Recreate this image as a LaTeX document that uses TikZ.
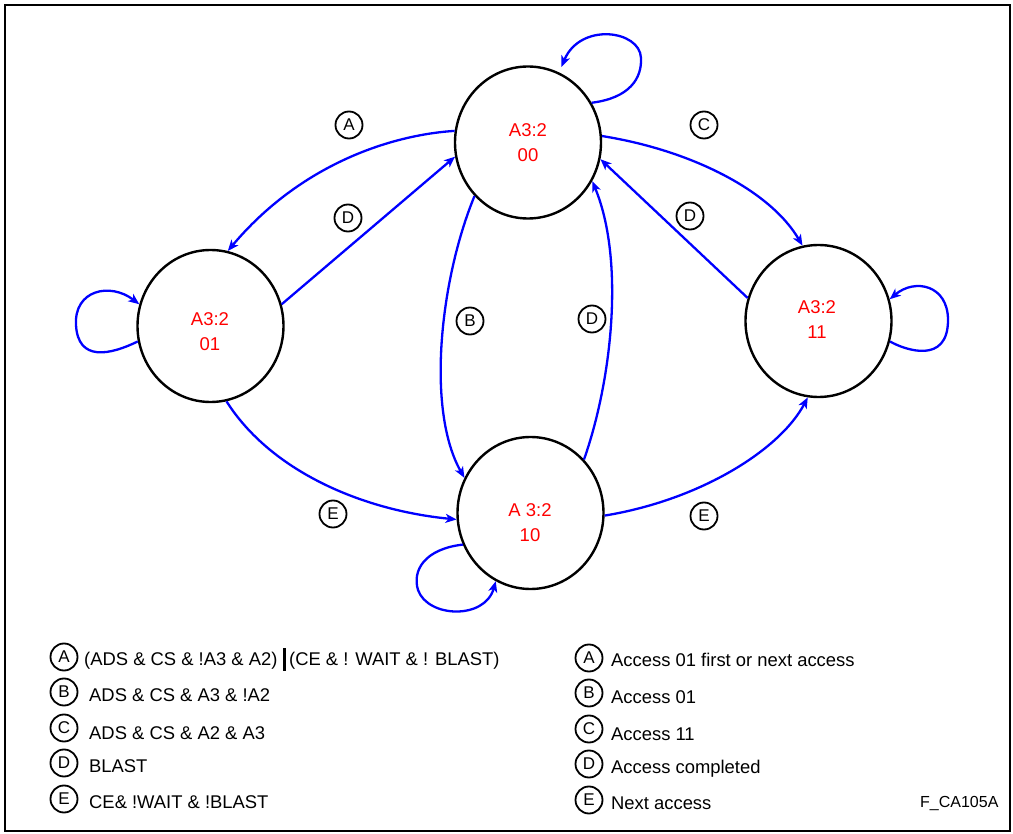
\documentclass[tikz,border=0pt]{standalone}
\usepackage{fontspec}
\setmainfont{Liberation Sans}
\usetikzlibrary{shapes.geometric,arrows.meta}
\begin{document}
\begin{tikzpicture}[x=1pt,y=-1pt,
  state/.style={draw=black, line width=2.4pt, ellipse, minimum width=146pt, minimum height=152pt, inner sep=0pt},
  stxt/.style={text=red, align=center, font=\fontsize{18.5}{25}\selectfont, inner sep=0pt},
  lab/.style={draw=black, circle, line width=1.8pt, minimum size=27pt, inner sep=0pt, font=\fontsize{17}{17}\selectfont},
  trans/.style={draw=blue, line width=2.3pt, -{Stealth[length=11pt,width=9pt,inset=3pt]}},
  legtxt/.style={anchor=base west, inner sep=0pt, font=\fontsize{18.4}{18.4}\selectfont}]
\useasboundingbox (0,0) rectangle (1013,834);
\draw[line width=2.4pt] (5,5) rectangle (1010,831);

% states
\node[state] (s00) at (528,142.5) {};
\node[state] (s01) at (210.5,326) {};
\node[state] (s11) at (818.5,321) {};
\node[state] (s10) at (530.5,513) {};
\node[stxt] (t00) at (528,142.5) {A3:2\\00};
\node[stxt] (t01) at (210,331.5) {A3:2\\01};
\node[stxt] (t11) at (817,320) {A3:2\\11};
\node[stxt] (t10) at (530,523) {A 3:2\\10};

% transitions
\draw[trans] (s00.171) .. controls (390,135) and (300,165) .. (s01.77);
\draw[trans] (s01.17) -- (s00.191);
\draw[trans] (s00.225) .. controls (440,280) and (426,410) .. (s10.152);
\draw[trans] (s10.45) .. controls (612,380) and (625,260) .. (s00.329);
\draw[trans] (s00.5) .. controls (690,150) and (770,190) .. (s11.102);
\draw[trans] (s11.162) -- (s00.347);
\draw[trans] (s01.282) .. controls (270,470) and (360,510) .. (s10.185);
\draw[trans] (s10.358) .. controls (700,500) and (780,450) .. (s11.262);

% self loops
\draw[trans, shorten >=6pt] (s00.32) .. controls (630,98) and (642,78) .. (641,58) .. controls (640,30) and (580,22) .. (s00.66);
\draw[trans] (s01.192) .. controls (110,355) and (78,362) .. (76,325) .. controls (74,290) and (110,282) .. (s01.163);
\draw[trans] (s11.344) .. controls (905,350) and (948,365) .. (948,320) .. controls (948,285) and (915,278) .. (s11.17);
\draw[trans] (s10.205) .. controls (425,549) and (412,570) .. (418,590) .. controls (428,618) and (485,620) .. (s10.243);

% edge labels
\node[lab] (la1) at (349,125) {A};
\node[lab] (lc1) at (704,125) {C};
\node[lab] (ld1) at (348,218) {D};
\node[lab] (ld2) at (690,216) {D};
\node[lab] (lb1) at (470,321) {B};
\node[lab] (ld3) at (592,319) {D};
\node[lab] (le1) at (333,514) {E};
\node[lab] (le2) at (704,516) {E};

% legend left
\node[lab] (gla) at (64,657) {A};
\node[legtxt] (gta) at (84,665) {(ADS \& CS \& !A3 \& A2)};
\draw[line width=2.5pt] (284.5,648) -- (284.5,671);
\node[legtxt] (gta2) at (289,665) {(CE \& ! WAIT \& ! BLAST)};
\node[lab] (glb) at (64,692) {B};
\node[legtxt] (gtb) at (89,701.5) {ADS \& CS \& A3 \& !A2};
\node[lab] (glc) at (64,728) {C};
\node[legtxt] (gtc) at (89,739) {ADS \& CS \& A2 \& A3};
\node[lab] (gld) at (64,763) {D};
\node[legtxt] (gtd) at (89,772.5) {BLAST};
\node[lab] (gle) at (64,799) {E};
\node[legtxt] (gte) at (89,808) {CE\& !WAIT \& !BLAST};

% legend right
\node[lab] (gra) at (589,658) {A};
\node[legtxt] (gsa) at (611,666) {Access 01 first or next access};
\node[lab] (grb) at (589,693) {B};
\node[legtxt] (gsb) at (611,703.5) {Access 01};
\node[lab] (grc) at (589,729) {C};
\node[legtxt] (gsc) at (611,740) {Access 11};
\node[lab] (grd) at (589,764) {D};
\node[legtxt] (gsd) at (611,773.5) {Access completed};
\node[lab] (gre) at (589,800) {E};
\node[legtxt] (gse) at (611,809) {Next access};

\node[anchor=base west, inner sep=0pt, font=\fontsize{16}{16}\selectfont] (fig) at (920,807) {F\_CA105A};
\end{tikzpicture}
\end{document}
